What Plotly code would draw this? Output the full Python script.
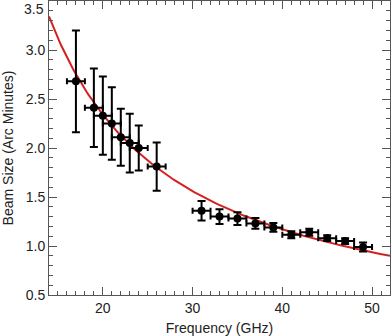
import numpy as np
import plotly.graph_objects as go

freq = [17, 19, 20, 21, 22, 23, 24, 26, 31, 33, 35, 37, 39, 41, 43, 45, 47, 49]
beam = [2.68, 2.41, 2.33, 2.25, 2.11, 2.05, 2.00, 1.81, 1.36, 1.30, 1.28, 1.23, 1.19, 1.115, 1.14, 1.08, 1.05, 0.99]
beam_err = [0.52, 0.40, 0.40, 0.37, 0.29, 0.30, 0.23, 0.245, 0.10, 0.075, 0.065, 0.055, 0.045, 0.035, 0.035, 0.03, 0.03, 0.045]
freq_err = [1.0] * len(freq)

x_ticks = [20, 30, 40, 50]
y_ticks = [0.5, 1.0, 1.5, 2.0, 2.5, 3.0]
y_top_label = 3.5

fit_k = 46.8  # model: beam = fit_k / freq
fit_x = np.linspace(14, 52, 200)
fit_y = fit_k / fit_x

FONT = "Liberation Sans, Arial"

fig = go.Figure()
fig.add_trace(go.Scatter(x=fit_x, y=fit_y, mode="lines",
                         line=dict(color="#d62020", width=2), showlegend=False))
fig.add_trace(go.Scatter(
    x=freq, y=beam, mode="markers",
    marker=dict(color="black", size=8),
    error_y=dict(type="data", array=beam_err, color="black", thickness=2, width=4),
    error_x=dict(type="data", array=freq_err, color="black", thickness=2, width=3),
    showlegend=False))

axis_common = dict(showline=True, linecolor="#555", linewidth=1, mirror="allticks",
                   ticks="inside", tickcolor="#555", ticklen=8, tickwidth=1,
                   showgrid=False, zeroline=False, automargin=False,
                   tickfont=dict(family=FONT, size=14, color="#222"))

fig.update_xaxes(range=[14, 52], tickvals=x_ticks,
                 minor=dict(dtick=1, tick0=0, ticks="inside", ticklen=4, tickcolor="#555", showgrid=False),
                 title=dict(text="Frequency (GHz)",
                            font=dict(family=FONT, size=14, color="#222")),
                 **axis_common)
fig.update_yaxes(range=[0.5, 3.5], tickvals=y_ticks, tickformat=".1f",
                 minor=dict(dtick=0.1, tick0=0, ticks="inside", ticklen=4, tickcolor="#555", showgrid=False),
                 title=dict(text="Beam Size (Arc Minutes)",
                            font=dict(family=FONT, size=14, color="#222")),
                 **axis_common)

fig.add_annotation(x=0, xref="paper", xanchor="right", xshift=-3,
                   y=y_top_label, yref="y", yanchor="top", yshift=2,
                   text=f"{y_top_label:.1f}", showarrow=False,
                   font=dict(family=FONT, size=14, color="#222"))

fig.update_layout(width=391, height=336, margin=dict(l=49, r=1, t=1, b=41),
                  plot_bgcolor="white", paper_bgcolor="white")

fig.write_html("out.html", config={"displayModeBar": False, "staticPlot": True})

with open("out.html", "r", encoding="utf-8") as f:
    html = f.read()
html = html.replace("<body>", '<body style="margin:0;padding:0;overflow:hidden">', 1)
with open("out.html", "w", encoding="utf-8") as f:
    f.write(html)
